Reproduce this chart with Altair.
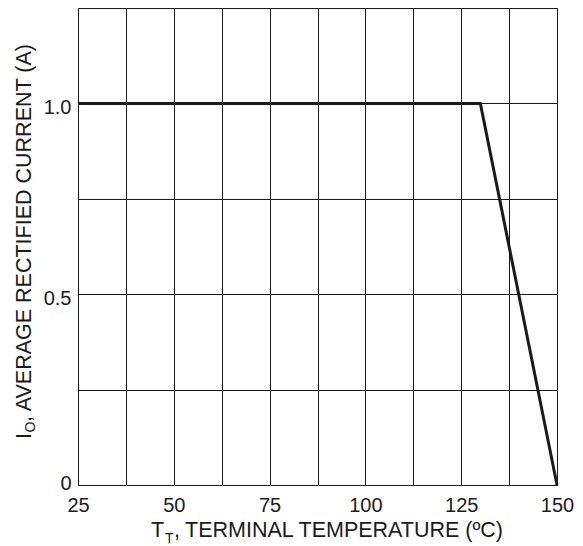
import altair as alt
import pandas as pd

# Data
temp = [25, 130, 150]
current = [1.0, 1.0, 0.0]

# Grid positions / tick labels
x_grid = [25, 37.5, 50, 62.5, 75, 87.5, 100, 112.5, 125, 137.5, 150]
y_grid = [0, 0.25, 0.5, 0.75, 1.0, 1.25]

df = pd.DataFrame({"t": temp, "i": current})

FONT = "Liberation Sans"
INK = "#1a1a1a"

x = alt.X(
    "t:Q",
    scale=alt.Scale(domain=[25, 150], nice=False, zero=False),
    axis=alt.Axis(
        values=x_grid, title=None, format="d",
        labelExpr="datum.value % 25 === 0 ? datum.label : ''",
        tickSize=0, labelPadding=10, domain=False, grid=True,
        gridColor=INK, gridWidth=1, gridOpacity=1,
        labelFontSize=20, labelColor=INK, labelFont=FONT,
        labelFlush=False, labelOverlap=False,
    ),
)
y = alt.Y(
    "i:Q",
    scale=alt.Scale(domain=[0, 1.25], nice=False),
    axis=alt.Axis(
        values=y_grid, title=None,
        labelExpr="datum.value === 0 ? '0' : ((datum.value === 0.5 || datum.value === 1) ? format(datum.value, '.1f') : '')",
        tickSize=0, labelPadding=7, domain=False, grid=True,
        gridColor=INK, gridWidth=1, gridOpacity=1,
        labelFontSize=20, labelColor=INK, labelFont=FONT,
        labelFlush=False, labelOverlap=False, labelBaseline="middle",
        labelOffset={"condition": {"test": "datum.value === 0", "value": -2}, "value": 4},
    ),
)

line = alt.Chart(df).mark_line(color=INK, strokeWidth=3).encode(x=x, y=y)


def label(s, size, px, py, angle=0, dx=0, dy=0):
    d = pd.DataFrame({"s": [s]})
    return alt.Chart(d).mark_text(
        font=FONT, fontSize=size, color=INK, align="left",
        baseline="alphabetic", angle=angle, dx=dx, dy=dy,
    ).encode(x=alt.value(px), y=alt.value(py), text="s:N")


# x-axis title: T_T,  TERMINAL TEMPERATURE (ºC)
xt1 = label("T", 21.5, 73, 529)
xt2 = label("T", 14, 87, 535)
xt3 = label(",", 21.5, 96, 529)
xt4 = label("TERMINAL TEMPERATURE (ºC)", 21.5, 107, 529)

# y-axis title: I_O, AVERAGE RECTIFIED CURRENT (A)
yt1 = label("I", 21.5, -47, 431, angle=270)
yt2 = label("O", 14, -47, 431, angle=270, dx=6.5, dy=4)
yt3 = label(", AVERAGE RECTIFIED CURRENT (A)", 21.5, -47, 431, angle=270, dx=17)

chart = (
    alt.layer(line, xt1, xt2, xt3, xt4, yt1, yt2, yt3)
    .properties(
        width=479, height=477,
        autosize=alt.AutoSizeParams(type="none"),
        padding={"left": 70, "top": 0, "right": 18, "bottom": 60},
        background="white",
    )
    .configure_view(stroke=INK, strokeWidth=1)
)

chart.save("out.html", embed_options={"renderer": "svg", "actions": False})
